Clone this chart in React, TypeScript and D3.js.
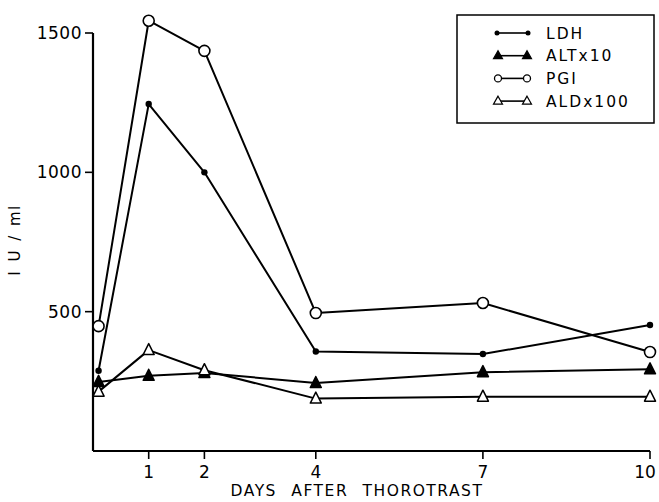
import React from 'react';
import * as d3 from 'd3';

// days after injection (first sample drawn just right of the axis)
const days = [0.1, 1, 2, 4, 7, 10];
const ldh = [288, 1245, 1000, 357, 348, 452];
const altx10 = [248, 270, 280, 244, 283, 293];
const pgi = [448, 1544, 1436, 495, 531, 355];
const aldx100 = [213, 362, 290, 188, 195, 195];

const xTicks = [1, 2, 4, 7, 10];
const yTicks = [500, 1000, 1500];

const FONT = "'DejaVu Sans', sans-serif";

const series = [
  { name: 'LDH', values: ldh, marker: 'dot' },
  { name: 'ALTx10', values: altx10, marker: 'triFill' },
  { name: 'PGI', values: pgi, marker: 'ring' },
  { name: 'ALDx100', values: aldx100, marker: 'triOpen' },
];

const Marker = ({ type, x, y }: { type: string; x: number; y: number }) => {
  if (type === 'dot') return <circle cx={x} cy={y} r={3.2} fill="#000" />;
  if (type === 'ring')
    return <circle cx={x} cy={y} r={5.5} fill="#fff" stroke="#000" strokeWidth={1.6} />;
  const s = 5.5;
  const pts = `${x},${y - s - 1} ${x - s},${y + s - 1} ${x + s},${y + s - 1}`;
  return (
    <polygon
      points={pts}
      fill={type === 'triFill' ? '#000' : '#fff'}
      stroke="#000"
      strokeWidth={1.5}
      strokeLinejoin="round"
    />
  );
};

export default function App() {
  const width = 659;
  const height = 502;

  const x = d3.scaleLinear().domain([0, 10]).range([93, 650]);
  const y = d3.scaleLinear().domain([0, 1500]).range([451, 33]);

  const line = d3
    .line<number>()
    .x((_, i) => x(days[i]))
    .y((d) => y(d));

  return (
    <svg
      width={width}
      height={height}
      style={{ position: 'absolute', left: 0, top: 0, background: '#fff' }}
      fontFamily={FONT}
    >
      <rect width={width} height={height} fill="#fff" />

      {/* axes */}
      <line x1={x(0)} x2={x(0)} y1={y(1500)} y2={y(0)} stroke="#000" strokeWidth={2.2} />
      <line x1={x(0)} x2={x(10)} y1={y(0)} y2={y(0)} stroke="#000" strokeWidth={2.2} />

      {yTicks.map((t) => (
        <g key={t}>
          <line x1={x(0) - 8} x2={x(0)} y1={y(t)} y2={y(t)} stroke="#000" strokeWidth={1.6} />
          <text x={x(0) - 11} y={y(t)} dy="0.36em" textAnchor="end" fontSize={17} letterSpacing={0.5}>
            {t}
          </text>
        </g>
      ))}

      {xTicks.map((t) => (
        <g key={t}>
          <line x1={x(t)} x2={x(t)} y1={y(0)} y2={y(0) + 8} stroke="#000" strokeWidth={1.6} />
          <text x={Math.min(x(t), 645)} y={478} textAnchor="middle" fontSize={17}>
            {t}
          </text>
        </g>
      ))}

      <text x={357} y={496} textAnchor="middle" fontSize={15.5} letterSpacing={1.5} wordSpacing={8}>
        DAYS AFTER THOROTRAST
      </text>
      <text
        transform="translate(20,240) rotate(-90)"
        textAnchor="middle"
        fontSize={15}
        letterSpacing={1.5}
        wordSpacing={2}
      >
        I U / ml
      </text>

      {series.map((s) => (
        <path
          key={s.name}
          d={line(s.values) || ''}
          fill="none"
          stroke="#000"
          strokeWidth={2}
          strokeLinejoin="round"
        />
      ))}
      {series.map((s) =>
        s.values.map((v, i) => (
          <Marker key={s.name + i} type={s.marker} x={x(days[i])} y={y(v)} />
        ))
      )}

      {/* legend */}
      <rect x={457} y={15} width={197} height={108} fill="#fff" stroke="#000" strokeWidth={1.5} />
      {series.map((s, i) => {
        const ly = 33 + i * 22.7;
        return (
          <g key={s.name}>
            <line x1={497} x2={528} y1={ly} y2={ly} stroke="#000" strokeWidth={1.6} />
            {s.marker === 'dot' ? (
              <>
                <circle cx={497} cy={ly} r={2.5} fill="#000" />
                <circle cx={528} cy={ly} r={2.5} fill="#000" />
              </>
            ) : s.marker === 'ring' ? (
              <>
                <circle cx={498} cy={ly} r={3.5} fill="#fff" stroke="#000" strokeWidth={1.3} />
                <circle cx={527} cy={ly} r={3.5} fill="#fff" stroke="#000" strokeWidth={1.3} />
              </>
            ) : (
              [498, 527].map((cx) => (
                <polygon
                  key={cx}
                  points={`${cx},${ly - 5} ${cx - 4.5},${ly + 3} ${cx + 4.5},${ly + 3}`}
                  fill={s.marker === 'triFill' ? '#000' : '#fff'}
                  stroke="#000"
                  strokeWidth={1.2}
                />
              ))
            )}
            <text x={546} y={ly} dy="0.36em" fontSize={15.5} letterSpacing={2}>
              {s.name}
            </text>
          </g>
        );
      })}
    </svg>
  );
}
